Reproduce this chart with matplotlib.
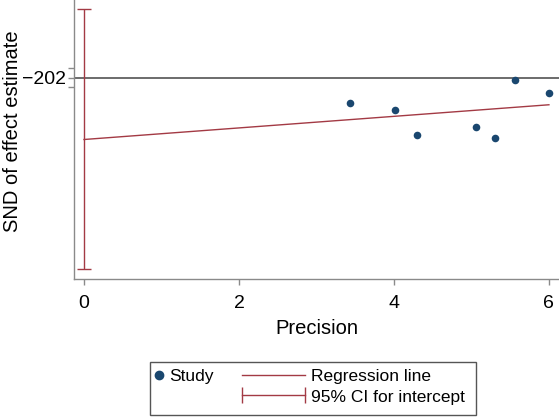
import matplotlib
matplotlib.use("Agg")
import matplotlib.pyplot as plt
from matplotlib.lines import Line2D
from matplotlib.patches import Rectangle
from matplotlib.legend_handler import HandlerLine2D

plt.rcParams['font.family'] = ['Liberation Sans', 'DejaVu Sans']

# study data: precision vs standard normal deviate
precision = [3.43, 4.01, 4.30, 5.06, 5.30, 5.56, 6.00]
snd = [-5.4, -6.8, -12.1, -10.4, -12.7, -0.4, -3.2]

# Egger regression
intercept = -13.0
slope = 1.22
ci_low, ci_high = -40.3, 14.4

yticks = [-2, 0, 2]
ytick_labels = ["", "\u2212202", ""]
xticks = [0, 2, 4, 6]

navy = "#1a476f"
maroon = "#a33a44"
grey = "#8a8a8a"

W, H = 559, 418
fig = plt.figure(figsize=(W / 100, H / 100), dpi=100)
ax = fig.add_axes([74 / W, 1 - 279 / H, 1 - 74 / W, 279 / H])

ax.axhline(0, color="#444444", lw=1.1, zorder=1)
ax.plot([0, 6], [intercept, intercept + slope * 6], color=maroon, lw=1.0, zorder=2)
ax.errorbar([0], [intercept], yerr=[[intercept - ci_low], [ci_high - intercept]],
            fmt="none", ecolor=maroon, elinewidth=1.0, capsize=5, capthick=1.0, zorder=2)
ax.scatter(precision, snd, s=30, color=navy, zorder=3, linewidths=0)

ax.set_xlim(-0.129, 6.13)
ax.set_ylim(-42.4, 16.4)
ax.set_xticks(xticks)
ax.set_yticks(yticks)
ax.set_yticklabels(ytick_labels)

for s in ["top", "right"]:
    ax.spines[s].set_visible(False)
for s in ["left", "bottom"]:
    ax.spines[s].set_color(grey)
    ax.spines[s].set_linewidth(1.0)
ax.tick_params(axis="both", colors=grey, labelcolor="black", length=4.5,
               width=1.0, labelsize=14)
ax.tick_params(axis="x", pad=7)
ax.tick_params(axis="y", pad=1)

ax.set_xlabel("Precision", fontsize=14.5, labelpad=5)
fig.text(13 / W, 1 - 131 / H, "SND of effect estimate", rotation=90,
         fontsize=14.5, ha="center", va="center")

# legend
fig.patches.append(Rectangle((150 / W, 1 - 415 / H), 326 / W, 53 / H,
                             transform=fig.transFigure, fill=False,
                             edgecolor="#555555", lw=1.0))
h_study = Line2D([], [], marker="o", ls="none", color=navy, markersize=6)
leg1 = fig.legend([h_study], ["Study"], loc="upper left",
                  bbox_to_anchor=(154 / W, 1 - 369 / H), frameon=False,
                  fontsize=12.5, handlelength=0.6, handletextpad=0.3,
                  borderpad=0, borderaxespad=0)
h_reg = Line2D([], [], color=maroon, lw=1.0)
h_ci = Line2D([], [], color=maroon, lw=1.0, marker="|", markersize=11,
              markeredgewidth=1.0)
fig.legend([h_reg, h_ci], ["Regression line", "95% CI for intercept"],
           loc="upper left", bbox_to_anchor=(242 / W, 1 - 369 / H),
           frameon=False, fontsize=12.5, handlelength=3.6, handletextpad=0.4,
           borderpad=0, borderaxespad=0, labelspacing=0.3,
           handler_map={h_ci: HandlerLine2D(numpoints=2, marker_pad=0)})

fig.savefig("out.png", dpi=100)
